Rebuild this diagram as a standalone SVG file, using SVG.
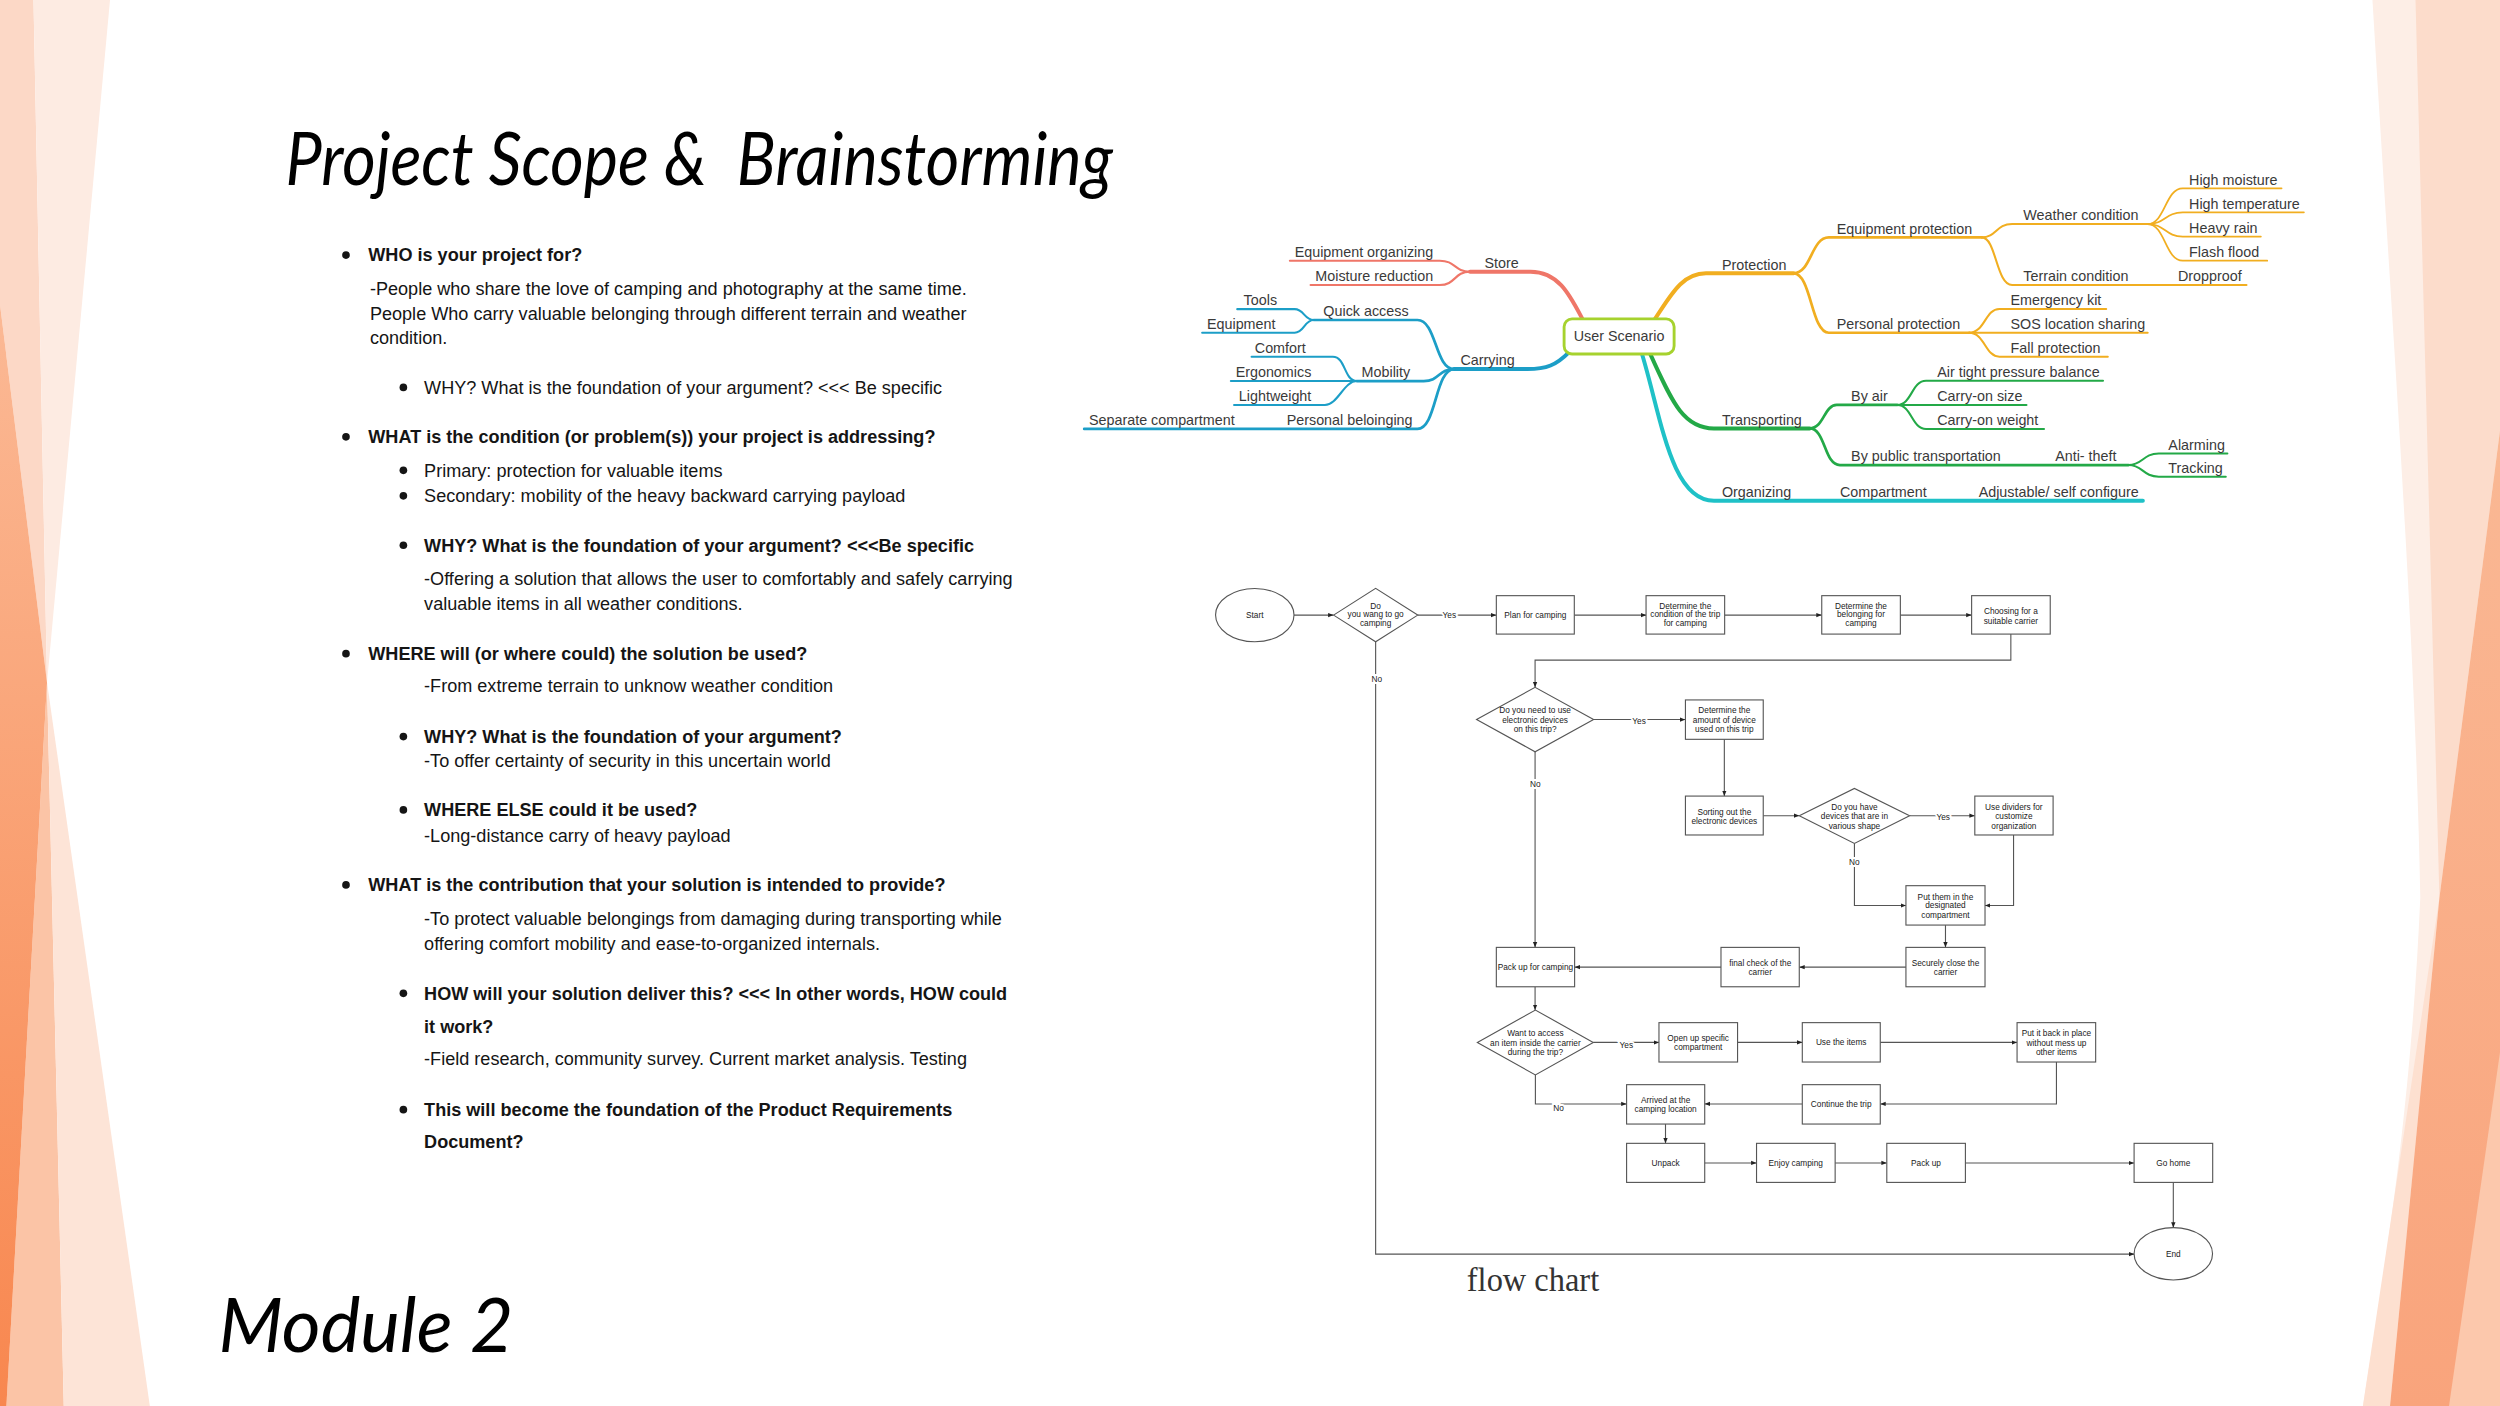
<svg xmlns="http://www.w3.org/2000/svg" width="2500" height="1406" viewBox="0 0 2500 1406">
<defs>
<style>
.body{font-family:"Liberation Sans",Arial,sans-serif;font-size:11.35px;fill:#151515}
.b{font-weight:bold}
.mm{font-family:"Liberation Sans",Arial,sans-serif;font-size:9px;fill:#3a3a3a}
.fc{font-family:"Liberation Sans",Arial,sans-serif;font-size:5.2px;fill:#1a1a1a;text-anchor:middle}
.lbl{paint-order:stroke;stroke:#fff;stroke-width:2.4px}
.box{fill:#fff;stroke:#555;stroke-width:0.7}
.edge{fill:none;stroke:#555;stroke-width:0.7}
.br{fill:none;stroke-linecap:round;stroke-linejoin:round}
.red{stroke:#ef7668}.blue{stroke:#1c9ec7}.amber{stroke:#f1ae20}.green{stroke:#23a947}.cyan{stroke:#1fc1c7}
.w1{stroke-width:2.5}.w2{stroke-width:1.7}.w3{stroke-width:1.3}.w4{stroke-width:1.1}
.bul{fill:#151515}
</style>
<marker id="ah" viewBox="0 0 10 10" refX="10" refY="5" markerWidth="3.4" markerHeight="3.4" markerUnits="userSpaceOnUse" orient="auto"><path d="M0,1 L10,5 L0,9 Z" fill="#222"/></marker>
<linearGradient id="gL2" x1="0" y1="0" x2="0" y2="1"><stop offset="0" stop-color="#fbb995"/><stop offset="1" stop-color="#f8874f"/></linearGradient>
<linearGradient id="gR" x1="0" y1="0" x2="0" y2="1"><stop offset="0" stop-color="#fab894"/><stop offset="1" stop-color="#f9a47c"/></linearGradient>
</defs>
<g transform="scale(1.59439)">
<g id="background">
<rect x="0" y="0" width="1568" height="882" fill="#ffffff"/>
<polygon points="0,0 21,0 29.5,428 0,191" fill="#fcd8c6"/>
<polygon points="21,0 69,0 29.5,428" fill="#fdebe2"/>
<polygon points="29.5,428 40,882 4,882" fill="#fbc4a6"/>
<polygon points="29.5,428 94,882 40,882" fill="#fde4d7"/>
<polygon points="0,191 29.5,428 4,882 0,882" fill="url(#gL2)"/>
<path d="M1488,0 C1500,200 1515,400 1518,563 C1512,700 1495,800 1482,882 L1568,882 L1568,0 Z" fill="#fdeee6"/>
<polygon points="1515,0 1568,0 1568,270 1530,563" fill="#fcdccb"/>
<polygon points="1530,563 1499,882 1482,882" fill="#fde0d0"/>
<polygon points="1568,270 1530,563 1499,882 1568,882" fill="url(#gR)"/>
<polygon points="1568,660 1568,882 1536,882" fill="#fcc8ac"/>
</g>

<g id="title">
<text x="179" y="116" xml:space="preserve" font-family="Lato, 'Open Sans', sans-serif" font-style="italic" font-size="46" fill="#000" textLength="519" lengthAdjust="spacingAndGlyphs">Project Scope &amp;  Brainstorming</text>
</g>
<g id="module-label">
<text x="137" y="848" font-family="Lato, 'Open Sans', sans-serif" font-style="italic" font-size="47" fill="#000" textLength="185" lengthAdjust="spacingAndGlyphs">Module 2</text>
</g>

<g id="scope-text">
<circle class="bul" cx="217" cy="160" r="2.4"/>
<text class="body b" x="231" y="164">WHO is your project for?</text>
<text class="body" x="232" y="185">-People who share the love of camping and photography at the same time.</text>
<text class="body" x="232" y="200.5">People Who carry valuable belonging through different terrain and weather</text>
<text class="body" x="232" y="216">condition.</text>
<circle class="bul" cx="253" cy="243" r="2.4"/>
<text class="body" x="266" y="247">WHY? What is the foundation of your argument? &lt;&lt;&lt; Be specific</text>
<circle class="bul" cx="217" cy="274" r="2.4"/>
<text class="body b" x="231" y="278">WHAT is the condition (or problem(s)) your project is addressing?</text>
<circle class="bul" cx="253" cy="295" r="2.4"/>
<text class="body" x="266" y="299">Primary: protection for valuable items</text>
<circle class="bul" cx="253" cy="311" r="2.4"/>
<text class="body" x="266" y="315">Secondary: mobility of the heavy backward carrying payload</text>
<circle class="bul" cx="253" cy="342" r="2.4"/>
<text class="body b" x="266" y="346">WHY? What is the foundation of your argument? &lt;&lt;&lt;Be specific</text>
<text class="body" x="266" y="367">-Offering a solution that allows the user to comfortably and safely carrying</text>
<text class="body" x="266" y="382.5">valuable items in all weather conditions.</text>
<circle class="bul" cx="217" cy="410" r="2.4"/>
<text class="body b" x="231" y="414">WHERE will (or where could) the solution be used?</text>
<text class="body" x="266" y="434">-From extreme terrain to unknow weather condition</text>
<circle class="bul" cx="253" cy="462" r="2.4"/>
<text class="body b" x="266" y="466">WHY? What is the foundation of your argument?</text>
<text class="body" x="266" y="481">-To offer certainty of security in this uncertain world</text>
<circle class="bul" cx="253" cy="508" r="2.4"/>
<text class="body b" x="266" y="512">WHERE ELSE could it be used?</text>
<text class="body" x="266" y="528">-Long-distance carry of heavy payload</text>
<circle class="bul" cx="217" cy="555" r="2.4"/>
<text class="body b" x="231" y="559">WHAT is the contribution that your solution is intended to provide?</text>
<text class="body" x="266" y="580">-To protect valuable belongings from damaging during transporting while</text>
<text class="body" x="266" y="596">offering comfort mobility and ease-to-organized internals.</text>
<circle class="bul" cx="253" cy="623" r="2.4"/>
<text class="body b" x="266" y="627">HOW will your solution deliver this? &lt;&lt;&lt; In other words, HOW could</text>
<text class="body b" x="266" y="648">it work?</text>
<text class="body" x="266" y="668">-Field research, community survey. Current market analysis. Testing</text>
<circle class="bul" cx="253" cy="696" r="2.4"/>
<text class="body b" x="266" y="700">This will become the foundation of the Product Requirements</text>
<text class="body b" x="266" y="720">Document?</text>
</g>

<g id="mindmap-connectors">
<path class="br red w1" d="M993,201 C985,186 978,170.4 960,170.4 L922,170.4"/>
<path class="br red w3" d="M922,170.4 C912,170.4 913,163.5 903,163.5 L809,163.5"/>
<path class="br red w3" d="M922,170.4 C912,170.4 913,178.8 903,178.8 L822,178.8"/>
<path class="br blue w1" d="M984,221 C976,229 970,231.5 958,231.5 L912,231.5"/>
<path class="br blue w2" d="M912,231.5 C900,231.5 901,200.7 889,200.7 L824,200.7"/>
<path class="br blue w3" d="M824,200.7 C818,200.7 818,193.9 812,193.9 L776,193.9"/>
<path class="br blue w3" d="M824,200.7 C818,200.7 818,208.7 812,208.7 L754,208.7"/>
<path class="br blue w2" d="M912,231.5 C902,231.5 903,239 893,239 L851,239"/>
<path class="br blue w3" d="M851,239 C843,239 844,223.7 836,223.7 L785,223.7"/>
<path class="br blue w3" d="M851,239 L772,239"/>
<path class="br blue w3" d="M851,239 C843,239 839,254 831,254 L774,254"/>
<path class="br blue w2" d="M912,231.5 C900,231.5 901,269 889,269 L680,269"/>
<path class="br amber w1" d="M1038,200 C1048,185 1055,171.4 1070,171.4 L1125,171.4"/>
<path class="br amber w2" d="M1125,171.4 C1136,171.4 1136,148.9 1147,148.9 L1243,148.9"/>
<path class="br amber w3" d="M1243,148.9 C1252,148.9 1252,140.5 1262,140.5 L1347,140.5"/>
<path class="br amber w4" d="M1347,140.5 C1358,140.5 1358,118.1 1369,118.1 L1431,118.1"/>
<path class="br amber w4" d="M1347,140.5 C1358,140.5 1358,133.2 1369,133.2 L1445,133.2"/>
<path class="br amber w4" d="M1347,140.5 C1358,140.5 1358,148.4 1369,148.4 L1418,148.4"/>
<path class="br amber w4" d="M1347,140.5 C1358,140.5 1358,163.5 1369,163.5 L1422,163.5"/>
<path class="br amber w3" d="M1243,148.9 C1252,148.9 1252,178.8 1262,178.8 L1409,178.8"/>
<path class="br amber w2" d="M1125,171.4 C1136,171.4 1136,208.7 1147,208.7 L1235,208.7"/>
<path class="br amber w3" d="M1235,208.7 C1245,208.7 1245,193.8 1254,193.8 L1321,193.8"/>
<path class="br amber w3" d="M1235,208.7 L1347,208.7"/>
<path class="br amber w3" d="M1235,208.7 C1245,208.7 1245,223.7 1254,223.7 L1322,223.7"/>
<path class="br green w1" d="M1035,222 C1048,250 1055,268.7 1075,268.7 L1135,268.7"/>
<path class="br green w2" d="M1135,268.7 C1144,268.7 1144,254 1152,254 L1190,254"/>
<path class="br green w3" d="M1190,254 C1199,254 1199,238.8 1208,238.8 L1319,238.8"/>
<path class="br green w3" d="M1190,254 L1271,254"/>
<path class="br green w3" d="M1190,254 C1199,254 1199,269.1 1208,269.1 L1282,269.1"/>
<path class="br green w2" d="M1135,268.7 C1145,268.7 1144,291.7 1154,291.7 L1335,291.7"/>
<path class="br green w3" d="M1335,291.7 C1344,291.7 1344,284.4 1354,284.4 L1397,284.4"/>
<path class="br green w3" d="M1335,291.7 C1344,291.7 1344,299 1354,299 L1396,299"/>
<path class="br cyan w1" d="M1030,222.5 C1042,262 1048,314 1075,314 L1344,314"/>
</g>

<g id="mm-user-scenario">
<rect x="981" y="200" width="69" height="22" rx="5" fill="#fff" stroke="#a6d22e" stroke-width="1.8"/>
<text class="mm" x="1015.5" y="214" font-size="8.4" text-anchor="middle">User Scenario</text>
</g>
<g id="mm-store"><text class="mm" x="931" y="168">Store</text></g>
<g id="mm-equipment-organizing"><text class="mm" x="812" y="161.2">Equipment organizing</text></g>
<g id="mm-moisture-reduction"><text class="mm" x="825" y="176.5">Moisture reduction</text></g>
<g id="mm-carrying"><text class="mm" x="916" y="229.2">Carrying</text></g>
<g id="mm-quick-access"><text class="mm" x="830" y="198.4">Quick access</text></g>
<g id="mm-tools"><text class="mm" x="780" y="191.6">Tools</text></g>
<g id="mm-equipment"><text class="mm" x="757" y="206.4">Equipment</text></g>
<g id="mm-mobility"><text class="mm" x="854" y="236.7">Mobility</text></g>
<g id="mm-comfort"><text class="mm" x="787" y="221.4">Comfort</text></g>
<g id="mm-ergonomics"><text class="mm" x="775" y="236.7">Ergonomics</text></g>
<g id="mm-lightweight"><text class="mm" x="777" y="251.7">Lightweight</text></g>
<g id="mm-personal-beloinging"><text class="mm" x="807" y="266.7">Personal beloinging</text></g>
<g id="mm-separate-compartment"><text class="mm" x="683" y="266.7">Separate compartment</text></g>
<g id="mm-protection"><text class="mm" x="1080" y="169.1">Protection</text></g>
<g id="mm-equipment-protection"><text class="mm" x="1152" y="146.6">Equipment protection</text></g>
<g id="mm-weather-condition"><text class="mm" x="1269" y="138.2">Weather condition</text></g>
<g id="mm-high-moisture"><text class="mm" x="1373" y="115.8">High moisture</text></g>
<g id="mm-high-temperature"><text class="mm" x="1373" y="130.9">High temperature</text></g>
<g id="mm-heavy-rain"><text class="mm" x="1373" y="146.1">Heavy rain</text></g>
<g id="mm-flash-flood"><text class="mm" x="1373" y="161.2">Flash flood</text></g>
<g id="mm-terrain-condition"><text class="mm" x="1269" y="176.5">Terrain condition</text></g>
<g id="mm-dropproof"><text class="mm" x="1366" y="176.5">Dropproof</text></g>
<g id="mm-personal-protection"><text class="mm" x="1152" y="206.4">Personal protection</text></g>
<g id="mm-emergency-kit"><text class="mm" x="1261" y="191.5">Emergency kit</text></g>
<g id="mm-sos"><text class="mm" x="1261" y="206.4">SOS location sharing</text></g>
<g id="mm-fall-protection"><text class="mm" x="1261" y="221.4">Fall protection</text></g>
<g id="mm-transporting"><text class="mm" x="1080" y="266.4">Transporting</text></g>
<g id="mm-by-air"><text class="mm" x="1161" y="251.7">By air</text></g>
<g id="mm-air-tight"><text class="mm" x="1215" y="236.5">Air tight pressure balance</text></g>
<g id="mm-carry-on-size"><text class="mm" x="1215" y="251.7">Carry-on size</text></g>
<g id="mm-carry-on-weight"><text class="mm" x="1215" y="266.8">Carry-on weight</text></g>
<g id="mm-by-public"><text class="mm" x="1161" y="289.4">By public transportation</text></g>
<g id="mm-anti-theft"><text class="mm" x="1289" y="289.4">Anti- theft</text></g>
<g id="mm-alarming"><text class="mm" x="1360" y="282.1">Alarming</text></g>
<g id="mm-tracking"><text class="mm" x="1360" y="296.7">Tracking</text></g>
<g id="mm-organizing"><text class="mm" x="1080" y="311.7">Organizing</text></g>
<g id="mm-compartment"><text class="mm" x="1154" y="311.7">Compartment</text></g>
<g id="mm-adjustable"><text class="mm" x="1241" y="311.7">Adjustable/ self configure</text></g>

<g id="flow-connectors">
<path class="edge" d="M811.6,385.8 L836.4,385.8" marker-end="url(#ah)"/>
<path class="edge" d="M889.2,385.8 L938.5,385.8" marker-end="url(#ah)"/>
<path class="edge" d="M987.4,385.8 L1032.4,385.8" marker-end="url(#ah)"/>
<path class="edge" d="M1081.7,385.8 L1142.6,385.8" marker-end="url(#ah)"/>
<path class="edge" d="M1191.9,385.8 L1236.6,385.8" marker-end="url(#ah)"/>
<path class="edge" d="M1261.2,397.7 L1261.2,414 L962.8,414 L962.8,431.1" marker-end="url(#ah)"/>
<path class="edge" d="M862.8,402.5 L862.8,786.6 L1338.5,786.6" marker-end="url(#ah)"/>
<path class="edge" d="M999.5,451.3 L1057.1,451.3" marker-end="url(#ah)"/>
<path class="edge" d="M962.8,471.5 L962.8,594.2" marker-end="url(#ah)"/>
<path class="edge" d="M1081.5,463.7 L1081.5,499.3" marker-end="url(#ah)"/>
<path class="edge" d="M1105.9,511.6 L1128.5,511.6" marker-end="url(#ah)"/>
<path class="edge" d="M1197.7,511.6 L1238.6,511.6" marker-end="url(#ah)"/>
<path class="edge" d="M1163.1,529 L1163.1,567.9 L1195.4,567.9" marker-end="url(#ah)"/>
<path class="edge" d="M1262.9,523.7 L1262.9,567.9 L1245,567.9" marker-end="url(#ah)"/>
<path class="edge" d="M1220.2,580.2 L1220.2,594.2" marker-end="url(#ah)"/>
<path class="edge" d="M1195.4,606.6 L1128.5,606.6" marker-end="url(#ah)"/>
<path class="edge" d="M1079.4,606.6 L987.6,606.6" marker-end="url(#ah)"/>
<path class="edge" d="M962.8,618.9 L962.8,633.5" marker-end="url(#ah)"/>
<path class="edge" d="M999.3,653.8 L1040.5,653.8" marker-end="url(#ah)"/>
<path class="edge" d="M1089.8,653.8 L1130.4,653.8" marker-end="url(#ah)"/>
<path class="edge" d="M1179.3,653.8 L1265.1,653.8" marker-end="url(#ah)"/>
<path class="edge" d="M1289.8,666.1 L1289.8,692.4 L1179.3,692.4" marker-end="url(#ah)"/>
<path class="edge" d="M1130.4,692.4 L1069.2,692.4" marker-end="url(#ah)"/>
<path class="edge" d="M963,674.2 L963,692.4 L1020.2,692.4" marker-end="url(#ah)"/>
<path class="edge" d="M1044.6,705 L1044.6,717.1" marker-end="url(#ah)"/>
<path class="edge" d="M1069.2,729.4 L1101.7,729.4" marker-end="url(#ah)"/>
<path class="edge" d="M1151,729.4 L1183.4,729.4" marker-end="url(#ah)"/>
<path class="edge" d="M1232.7,729.4 L1338.5,729.4" marker-end="url(#ah)"/>
<path class="edge" d="M1363.1,741.6 L1363.1,770" marker-end="url(#ah)"/>
<text class="fc lbl" x="909" y="387.6">Yes</text>
<text class="fc lbl" x="863.5" y="427.8">No</text>
<text class="fc lbl" x="1028" y="454.2">Yes</text>
<text class="fc lbl" x="963" y="493.5">No</text>
<text class="fc lbl" x="1218.8" y="514.6">Yes</text>
<text class="fc lbl" x="1163" y="542.7">No</text>
<text class="fc lbl" x="1020" y="657.2">Yes</text>
<text class="fc lbl" x="977.5" y="696.6">No</text>
</g>

<g id="fc-start"><ellipse class="box" cx="787" cy="385.8" rx="24.6" ry="16.7"/><text class="fc" x="787" y="387.6">Start</text></g>
<g id="fc-want-camping"><polygon class="box" points="836.4,385.8 862.8,369 889.2,385.8 862.8,402.5"/><text class="fc"><tspan x="862.8" y="381.7">Do</tspan><tspan x="862.8" y="387.2">you wang to go</tspan><tspan x="862.8" y="392.8">camping</tspan></text></g>
<g id="fc-plan"><rect class="box" x="938.5" y="373.6" width="48.9" height="24.1"/><text class="fc" x="963" y="387.6">Plan for camping</text></g>
<g id="fc-condition"><rect class="box" x="1032.4" y="373.6" width="49.3" height="24.1"/><text class="fc"><tspan x="1057" y="381.7">Determine the</tspan><tspan x="1057" y="387.2">condition of the trip</tspan><tspan x="1057" y="392.8">for camping</tspan></text></g>
<g id="fc-belonging"><rect class="box" x="1142.6" y="373.6" width="49.3" height="24.1"/><text class="fc"><tspan x="1167.2" y="381.7">Determine the</tspan><tspan x="1167.2" y="387.2">belonging for</tspan><tspan x="1167.2" y="392.8">camping</tspan></text></g>
<g id="fc-choosing"><rect class="box" x="1236.6" y="373.6" width="49.3" height="24.1"/><text class="fc"><tspan x="1261.2" y="385">Choosing for a</tspan><tspan x="1261.2" y="391.1">suitable carrier</tspan></text></g>
<g id="fc-need-devices"><polygon class="box" points="926.1,451.3 962.8,431.1 999.5,451.3 962.8,471.5"/><text class="fc"><tspan x="962.8" y="447.5">Do you need to use</tspan><tspan x="962.8" y="453.2">electronic devices</tspan><tspan x="962.8" y="459">on this trip?</tspan></text></g>
<g id="fc-amount"><rect class="box" x="1057.1" y="439" width="48.8" height="24.7"/><text class="fc"><tspan x="1081.5" y="447.5">Determine the</tspan><tspan x="1081.5" y="453.2">amount of device</tspan><tspan x="1081.5" y="459">used on this trip</tspan></text></g>
<g id="fc-sorting"><rect class="box" x="1057.1" y="499.3" width="48.8" height="24.4"/><text class="fc"><tspan x="1081.5" y="510.9">Sorting out the</tspan><tspan x="1081.5" y="516.5">electronic devices</tspan></text></g>
<g id="fc-various-shape"><polygon class="box" points="1128.5,511.6 1163.1,494.5 1197.7,511.6 1163.1,529"/><text class="fc"><tspan x="1163.1" y="508.2">Do you have</tspan><tspan x="1163.1" y="513.8">devices that are in</tspan><tspan x="1163.1" y="519.7">various shape</tspan></text></g>
<g id="fc-dividers"><rect class="box" x="1238.6" y="499.3" width="49.1" height="24.4"/><text class="fc"><tspan x="1263.1" y="508.2">Use dividers for</tspan><tspan x="1263.1" y="513.8">customize</tspan><tspan x="1263.1" y="519.7">organization</tspan></text></g>
<g id="fc-put-them"><rect class="box" x="1195.4" y="555.5" width="49.6" height="24.7"/><text class="fc"><tspan x="1220.2" y="564.2">Put them in the</tspan><tspan x="1220.2" y="569.8">designated</tspan><tspan x="1220.2" y="575.7">compartment</tspan></text></g>
<g id="fc-securely"><rect class="box" x="1195.4" y="594.2" width="49.6" height="24.7"/><text class="fc"><tspan x="1220.2" y="605.8">Securely close the</tspan><tspan x="1220.2" y="611.5">carrier</tspan></text></g>
<g id="fc-final-check"><rect class="box" x="1079.4" y="594.2" width="49.1" height="24.7"/><text class="fc"><tspan x="1104" y="605.8">final check of the</tspan><tspan x="1104" y="611.5">carrier</tspan></text></g>
<g id="fc-pack-camping"><rect class="box" x="938.5" y="594.2" width="49.1" height="24.7"/><text class="fc" x="963" y="608.4">Pack up for camping</text></g>
<g id="fc-want-access"><polygon class="box" points="926.6,653.8 963,633.5 999.3,653.8 963,674.2"/><text class="fc"><tspan x="963" y="649.9">Want to access</tspan><tspan x="963" y="655.8">an item inside the carrier</tspan><tspan x="963" y="661.6">during the trip?</tspan></text></g>
<g id="fc-open-up"><rect class="box" x="1040.5" y="641.4" width="49.3" height="24.7"/><text class="fc"><tspan x="1065.1" y="652.8">Open up specific</tspan><tspan x="1065.1" y="658.7">compartment</tspan></text></g>
<g id="fc-use-items"><rect class="box" x="1130.4" y="641.4" width="48.9" height="24.7"/><text class="fc" x="1154.8" y="655.6">Use the items</text></g>
<g id="fc-put-back"><rect class="box" x="1265.1" y="641.4" width="49.3" height="24.7"/><text class="fc"><tspan x="1289.8" y="649.9">Put it back in place</tspan><tspan x="1289.8" y="655.8">without mess up</tspan><tspan x="1289.8" y="661.6">other items</tspan></text></g>
<g id="fc-continue"><rect class="box" x="1130.4" y="680.3" width="48.9" height="24.7"/><text class="fc" x="1154.8" y="694.2">Continue the trip</text></g>
<g id="fc-arrived"><rect class="box" x="1020.2" y="680.3" width="49" height="24.7"/><text class="fc"><tspan x="1044.7" y="691.5">Arrived at the</tspan><tspan x="1044.7" y="697.4">camping location</tspan></text></g>
<g id="fc-unpack"><rect class="box" x="1020.2" y="717.1" width="49" height="24.5"/><text class="fc" x="1044.7" y="731.2">Unpack</text></g>
<g id="fc-enjoy"><rect class="box" x="1101.7" y="717.1" width="49.3" height="24.5"/><text class="fc" x="1126.3" y="731.2">Enjoy camping</text></g>
<g id="fc-pack-up"><rect class="box" x="1183.4" y="717.1" width="49.3" height="24.5"/><text class="fc" x="1208" y="731.2">Pack up</text></g>
<g id="fc-go-home"><rect class="box" x="1338.5" y="717.1" width="49.3" height="24.5"/><text class="fc" x="1363.1" y="731.2">Go home</text></g>
<g id="fc-end"><ellipse class="box" cx="1363.1" cy="786.4" rx="24.6" ry="16.4"/><text class="fc" x="1363.1" y="788.2">End</text></g>

<g id="flow-caption">
<text x="920" y="810" font-family="'Liberation Serif', 'Times New Roman', serif" font-size="20.5" fill="#333" textLength="83" lengthAdjust="spacingAndGlyphs">flow chart</text>
</g>
</g>
</svg>
